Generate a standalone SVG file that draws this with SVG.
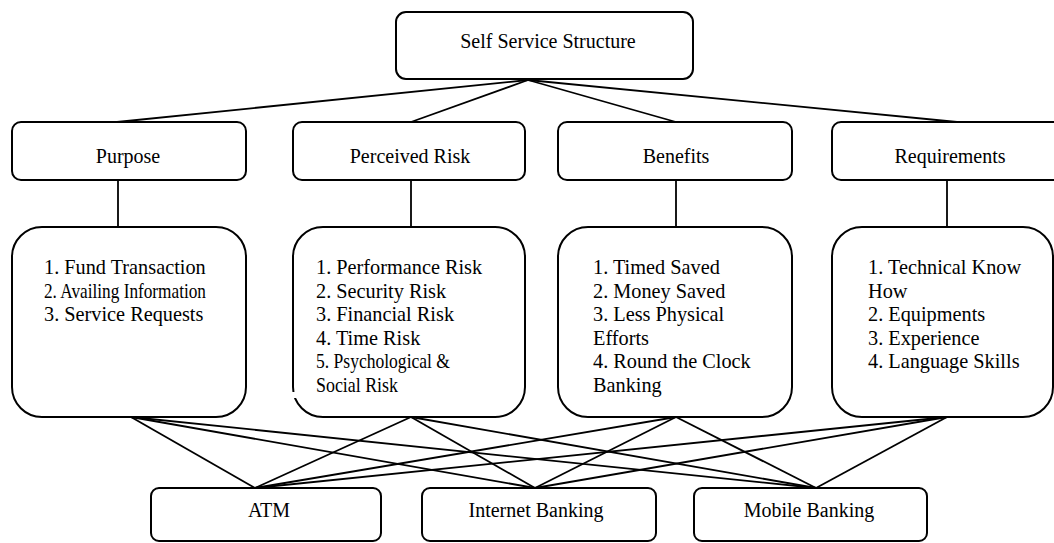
<svg xmlns="http://www.w3.org/2000/svg" width="1054" height="543" viewBox="0 0 1054 543">
<style>
.box{fill:#fff;stroke:#000;stroke-width:2}
.t{font-family:"Liberation Serif","Times New Roman",serif;font-size:20px;fill:#000}
.m{text-anchor:middle}
.l{font-size:20.3px}
#connectors line{stroke:#000;stroke-width:1.8}
</style>
<rect width="1054" height="543" fill="#fff"/>
<g id="connectors">
<line x1="528" y1="80" x2="117" y2="122"/>
<line x1="528" y1="80" x2="411" y2="122"/>
<line x1="528" y1="80" x2="676" y2="122"/>
<line x1="528" y1="80" x2="957" y2="122"/>
<line x1="118" y1="180" x2="118" y2="227"/>
<line x1="411" y1="180" x2="411" y2="227"/>
<line x1="676" y1="180" x2="676" y2="227"/>
<line x1="947" y1="180" x2="947" y2="227"/>
<line x1="131" y1="417" x2="255" y2="488"/>
<line x1="131" y1="417" x2="535" y2="488"/>
<line x1="131" y1="417" x2="816" y2="488"/>
<line x1="411" y1="417" x2="255" y2="488"/>
<line x1="411" y1="417" x2="535" y2="488"/>
<line x1="411" y1="417" x2="816" y2="488"/>
<line x1="676" y1="417" x2="255" y2="488"/>
<line x1="676" y1="417" x2="535" y2="488"/>
<line x1="676" y1="417" x2="816" y2="488"/>
<line x1="947" y1="417" x2="255" y2="488"/>
<line x1="947" y1="417" x2="535" y2="488"/>
<line x1="947" y1="417" x2="816" y2="488"/>
</g>
<g id="self-service">
<rect class="box" x="396" y="12" width="297" height="67" rx="10"/>
<text class="t m" x="548" y="48">Self Service Structure</text>
</g>
<g id="purpose">
<rect class="box" x="12" y="122" width="234" height="58" rx="9"/>
<text class="t m" x="128" y="163">Purpose</text>
</g>
<g id="perceived-risk">
<rect class="box" x="293" y="122" width="232" height="58" rx="9"/>
<text class="t m" x="410" y="163">Perceived Risk</text>
</g>
<g id="benefits">
<rect class="box" x="558" y="122" width="234" height="58" rx="9"/>
<text class="t m" x="676" y="163">Benefits</text>
</g>
<g id="requirements">
<rect class="box" x="832" y="122" width="234" height="58" rx="9"/>
<text class="t m" x="950" y="163">Requirements</text>
</g>
<g id="purpose-list">
<rect class="box" x="12" y="227" width="234" height="190" rx="30"/>
<text class="t l" x="44" y="274">1. Fund Transaction</text>
<text class="t l" x="44" y="297.5" textLength="162" lengthAdjust="spacingAndGlyphs">2. Availing Information</text>
<text class="t l" x="44" y="321">3. Service Requests</text>
</g>
<g id="risk-list">
<rect class="box" x="293" y="227" width="232" height="190" rx="30"/>
<rect x="289" y="392" width="8" height="6" fill="#fff"/>
<text class="t l" x="316" y="274">1. Performance Risk</text>
<text class="t l" x="316" y="297.5">2. Security Risk</text>
<text class="t l" x="316" y="321">3. Financial Risk</text>
<text class="t l" x="316" y="344.5">4. Time Risk</text>
<text class="t l" x="316" y="368" textLength="134" lengthAdjust="spacingAndGlyphs">5. Psychological &amp;</text>
<text class="t l" x="316" y="391.5" textLength="82" lengthAdjust="spacingAndGlyphs">Social Risk</text>
</g>
<g id="benefits-list">
<rect class="box" x="558" y="227" width="234" height="190" rx="30"/>
<text class="t l" x="593" y="274">1. Timed Saved</text>
<text class="t l" x="593" y="297.5">2. Money Saved</text>
<text class="t l" x="593" y="321">3. Less Physical</text>
<text class="t l" x="593" y="344.5">Efforts</text>
<text class="t l" x="593" y="368">4. Round the Clock</text>
<text class="t l" x="593" y="391.5">Banking</text>
</g>
<g id="requirements-list">
<rect class="box" x="832" y="227" width="221" height="190" rx="30"/>
<text class="t l" x="868" y="274">1. Technical Know</text>
<text class="t l" x="868" y="297.5">How</text>
<text class="t l" x="868" y="321">2. Equipments</text>
<text class="t l" x="868" y="344.5">3. Experience</text>
<text class="t l" x="868" y="368">4. Language Skills</text>
</g>
<g id="atm">
<rect class="box" x="151" y="488" width="230" height="53" rx="8"/>
<text class="t m" x="269" y="517">ATM</text>
</g>
<g id="internet-banking">
<rect class="box" x="422" y="488" width="234" height="53" rx="8"/>
<text class="t m" x="536" y="517">Internet Banking</text>
</g>
<g id="mobile-banking">
<rect class="box" x="694" y="488" width="233" height="53" rx="8"/>
<text class="t m" x="809" y="517">Mobile Banking</text>
</g>
</svg>
